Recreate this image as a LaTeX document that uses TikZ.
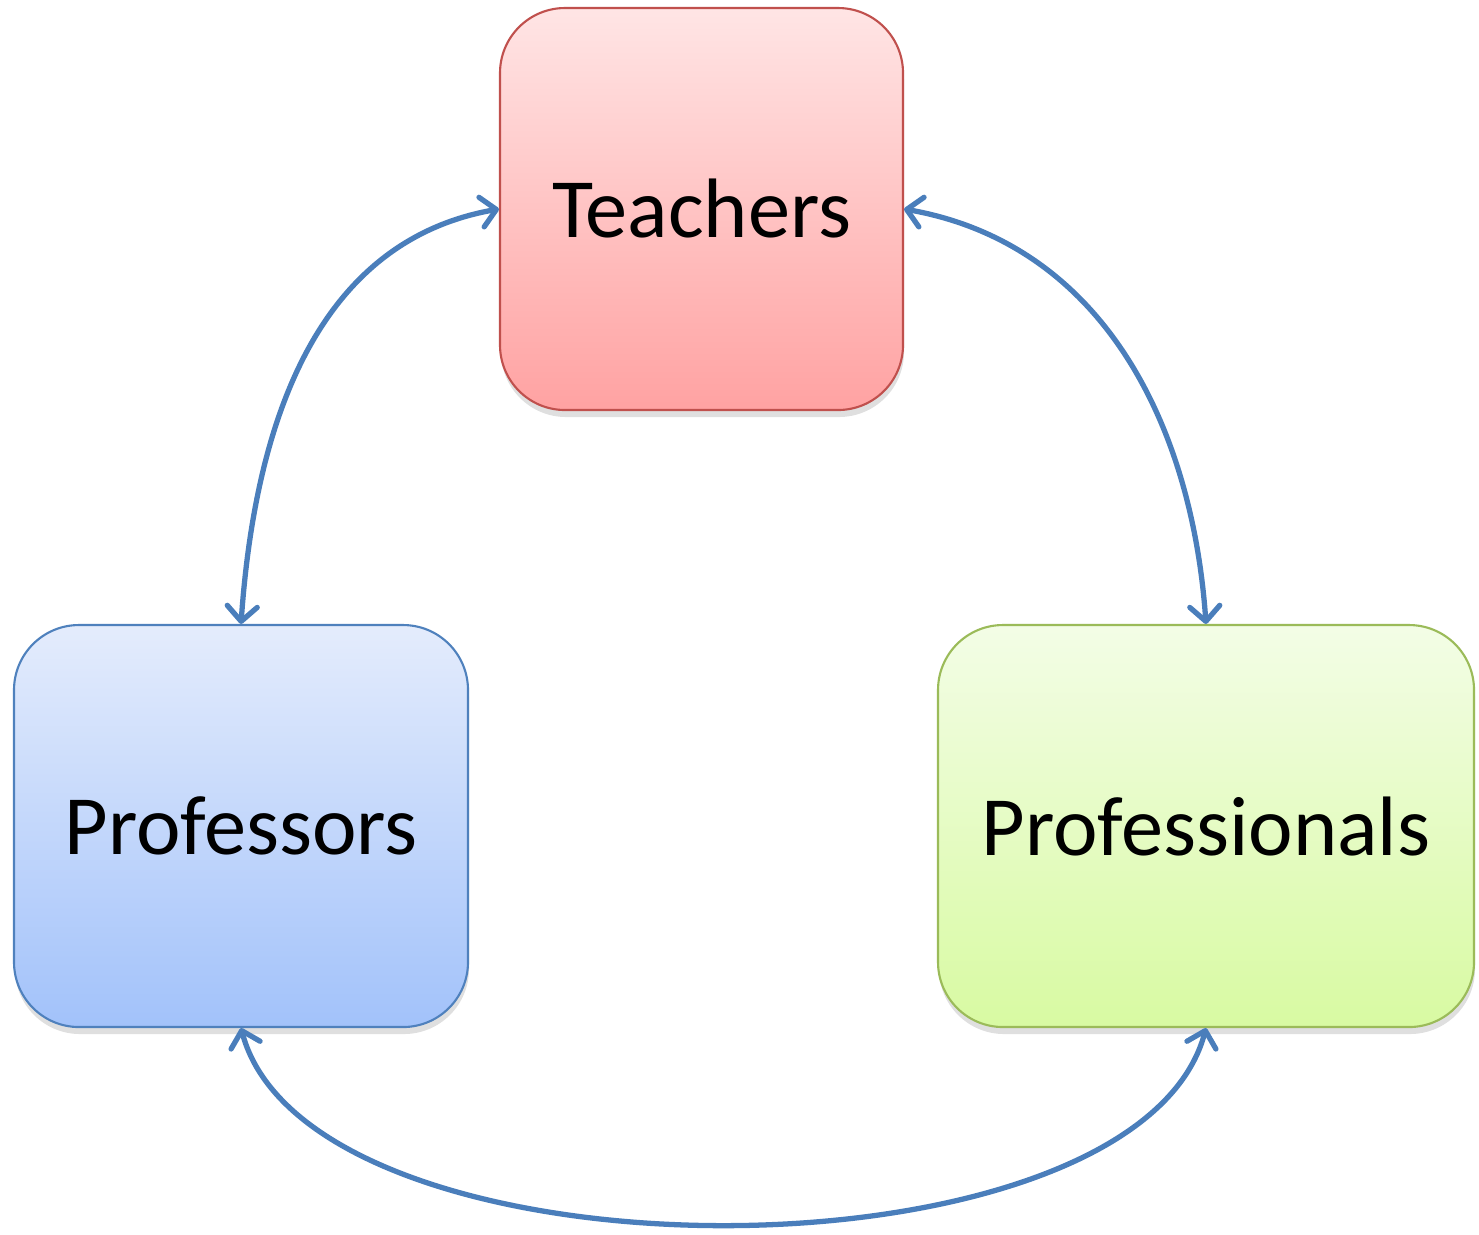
\documentclass[tikz,border=0pt]{standalone}
\usepackage{fontspec}
\setmainfont{Carlito}
\usepackage{tikz}
\usetikzlibrary{arrows.meta}
\usetikzlibrary{shadows}
\definecolor{linkblue}{HTML}{4A7EBB}
\tikzset{
	% One box style for each group, plus the double arrows between them
	group node/.style={rectangle,rounded corners=6.5mm,draw,line width=0.6pt,inner sep=0,
		minimum height=40.2mm,drop shadow={opacity=0.25,shadow xshift=0.1mm,shadow yshift=-0.7mm}},
	red node/.style={group node,draw={rgb,255:red,192;green,80;blue,77},
		top color={rgb,255:red,255;green,229;blue,229},bottom color={rgb,255:red,255;green,162;blue,162}},
	blue node/.style={group node,draw={rgb,255:red,79;green,129;blue,189},
		top color={rgb,255:red,228;green,236;blue,252},bottom color={rgb,255:red,162;green,194;blue,250}},
	green node/.style={group node,draw={rgb,255:red,155;green,187;blue,89},
		top color={rgb,255:red,243;green,253;blue,230},bottom color={rgb,255:red,216;green,250;blue,162}},
	link/.style={linkblue,line width=1.5pt,{Straight Barb[round,length=1.5mm,width=3mm]}-{Straight Barb[round,length=1.5mm,width=3mm]}}
}

\begin{document}
\begin{tikzpicture}[font=\fontsize{24}{28}\selectfont]
	\useasboundingbox (0,0) rectangle (14.79,-12.34);
	
	% the three groups
	\node(teach)[red node,minimum width=40.3mm] at (7.015,-2.09) {Teachers};
	\node(prof)[blue node,minimum width=45.4mm] at (2.41,-8.26) {Professors};
	\node(pros)[green node,minimum width=53.6mm] at (12.06,-8.26) {Professionals};
	
	% links between them
	\draw[link] (teach.west) to[out=190,in=86] (prof.north);
	\draw[link] (teach.east) to[out=-10,in=94] (pros.north);
	\draw[link] (prof.south) to[out=-75,in=-105,looseness=0.72] (pros.south);
\end{tikzpicture}
\end{document}
